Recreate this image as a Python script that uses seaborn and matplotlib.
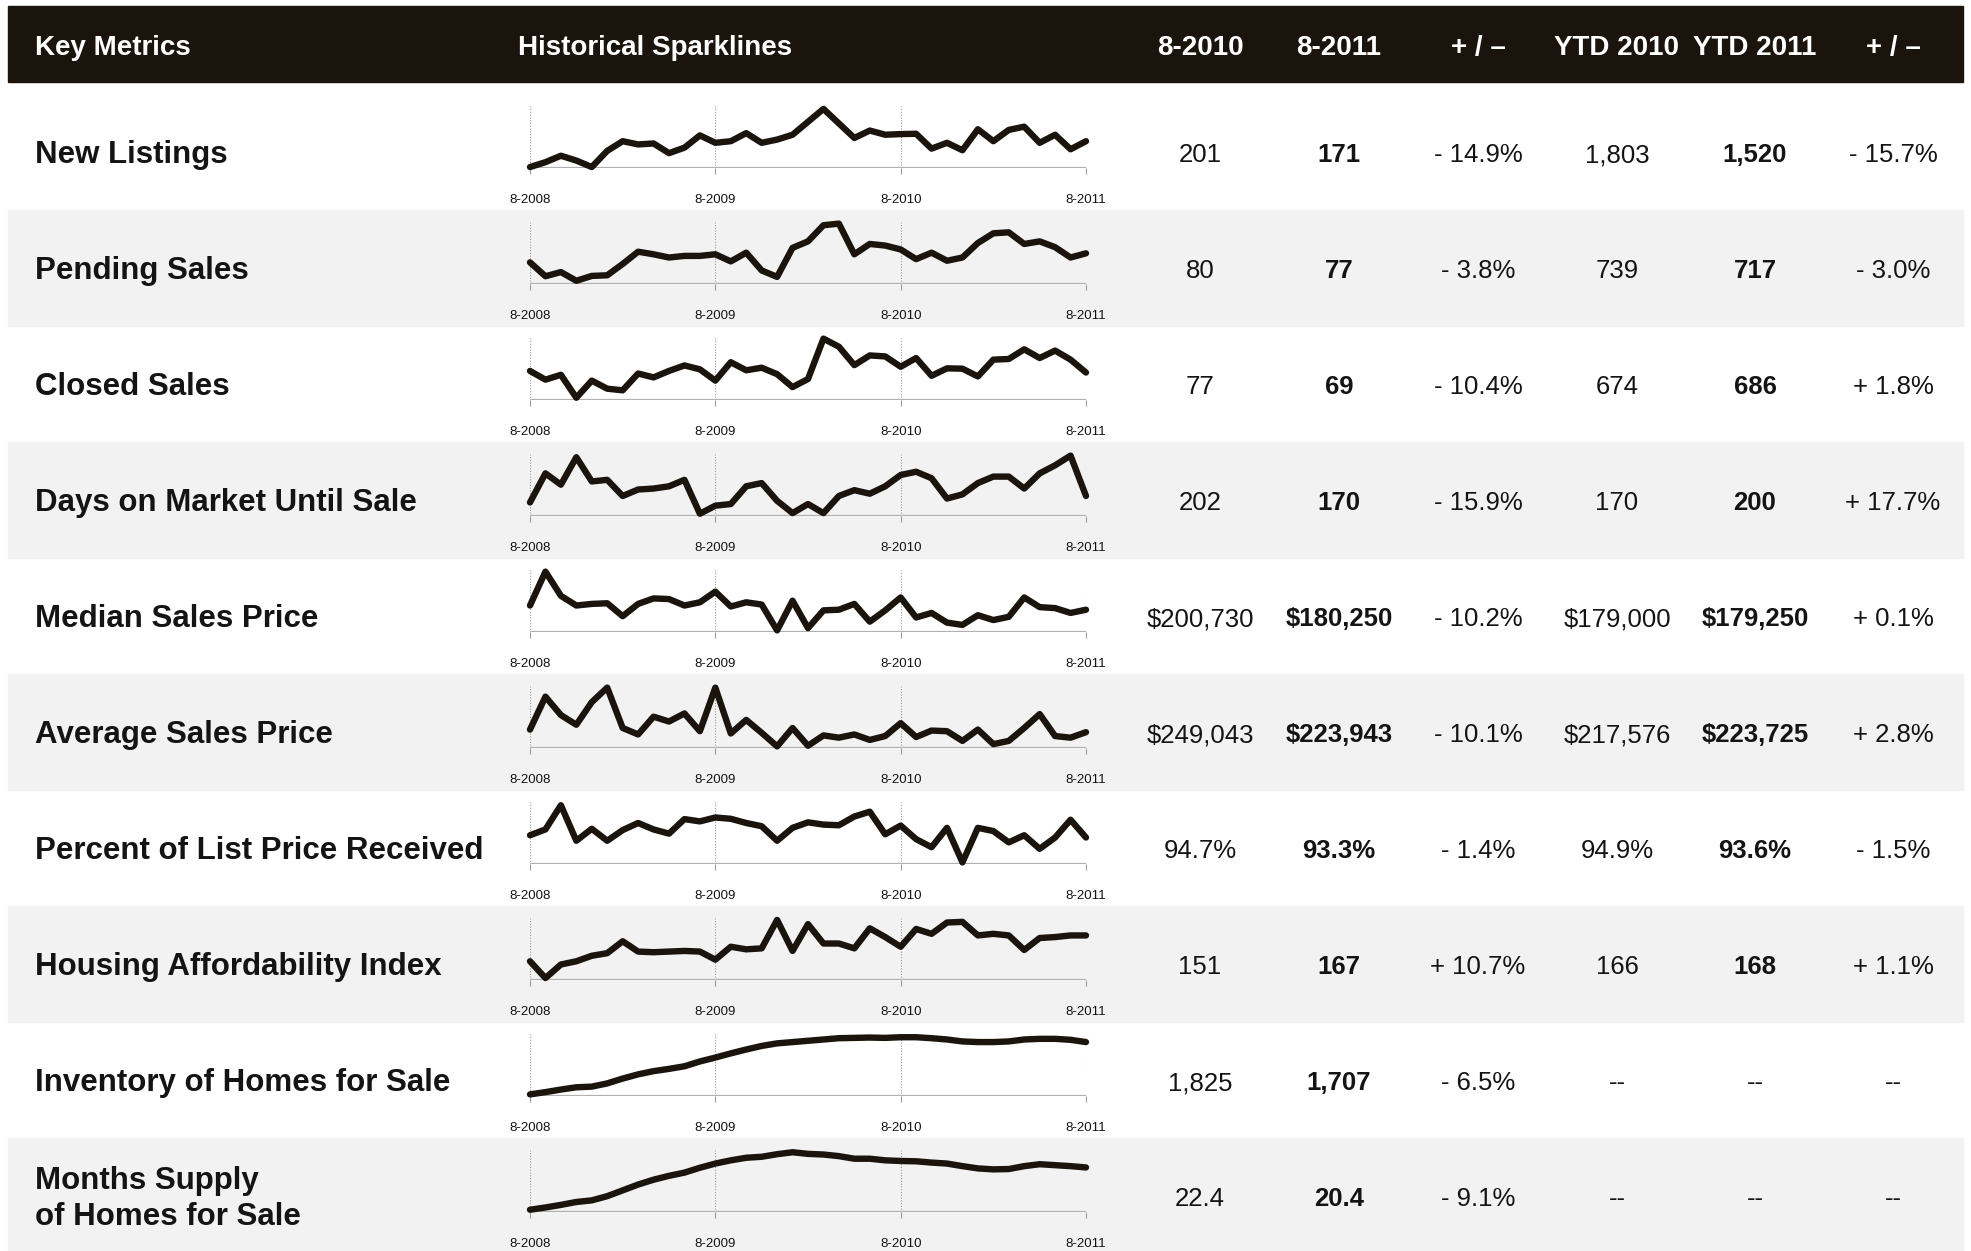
import numpy as np
import pandas as pd
import seaborn as sns
import matplotlib.pyplot as plt
from matplotlib.patches import Rectangle

# metric names (row labels)
metrics = ['New Listings', 'Pending Sales', 'Closed Sales', 'Days on Market Until Sale',
           'Median Sales Price', 'Average Sales Price', 'Percent of List Price Received',
           'Housing Affordability Index', 'Inventory of Homes for Sale',
           'Months Supply\nof Homes for Sale']

# table columns
col_8_2010 = ['201', '80', '77', '202', '$200,730', '$249,043', '94.7%', '151', '1,825', '22.4']
col_8_2011 = ['171', '77', '69', '170', '$180,250', '$223,943', '93.3%', '167', '1,707', '20.4']
chg_month = ['- 14.9%', '- 3.8%', '- 10.4%', '- 15.9%', '- 10.2%', '- 10.1%', '- 1.4%', '+ 10.7%', '- 6.5%', '- 9.1%']
ytd_2010 = ['1,803', '739', '674', '170', '$179,000', '$217,576', '94.9%', '166', '--', '--']
ytd_2011 = ['1,520', '717', '686', '200', '$179,250', '$223,725', '93.6%', '168', '--', '--']
chg_ytd = ['- 15.7%', '- 3.0%', '+ 1.8%', '+ 17.7%', '+ 0.1%', '+ 2.8%', '- 1.5%', '+ 1.1%', '--', '--']

headers = ['8-2010', '8-2011', '+ / \u2013', 'YTD 2010', 'YTD 2011', '+ / \u2013']
tick_labels = ['8-2008', '8-2009', '8-2010', '8-2011']

# sparkline values, monthly 8-2008 .. 8-2011 (relative heights)
new_listings = [3, 18, 38, 23, 3, 53, 83, 73, 76, 46, 63, 101, 78, 83, 108, 78, 88, 103, 143, 183,
                138, 93, 116, 103, 105, 106, 60, 78, 55, 120, 83, 118, 128, 78, 103, 58, 83]
pending_sales = [67, 24, 37, 10, 25, 27, 62, 100, 92, 82, 87, 87, 92, 70, 97, 42, 22, 112, 132, 182,
                 187, 92, 124, 119, 107, 77, 97, 72, 82, 127, 157, 160, 124, 132, 114, 82, 95]
closed_sales = [90, 63, 78, 7, 60, 35, 30, 82, 70, 90, 107, 95, 60, 117, 92, 100, 80, 40, 65, 190,
                165, 108, 138, 135, 103, 130, 75, 98, 97, 73, 125, 127, 157, 130, 153, 125, 85]
days_on_market = [42, 132, 97, 182, 107, 112, 62, 82, 85, 92, 112, 7, 32, 37, 92, 102, 47, 9, 37, 9,
                  62, 80, 69, 92, 127, 137, 117, 54, 67, 102, 122, 122, 85, 132, 157, 187, 62]
median_price = [82, 187, 112, 82, 87, 89, 49, 87, 104, 102, 82, 92, 125, 79, 92, 85, 5, 97, 12, 67,
                69, 87, 32, 67, 107, 45, 59, 29, 22, 52, 37, 47, 107, 77, 74, 59, 69]
average_price = [57, 159, 102, 72, 142, 187, 62, 42, 97, 82, 107, 52, 187, 45, 87, 47, 5, 62, 7, 39,
                 32, 42, 25, 37, 77, 34, 54, 52, 22, 57, 12, 22, 62, 105, 37, 32, 49]
pct_list_price = [89, 107, 182, 72, 109, 72, 105, 127, 107, 94, 139, 132, 144, 140, 127, 117, 72, 112, 129, 122,
                  120, 147, 162, 92, 119, 77, 52, 112, 5, 112, 102, 67, 89, 47, 82, 137, 82]
affordability = [58, 6, 48, 58, 75, 83, 120, 88, 86, 88, 90, 88, 63, 103, 95, 98, 186, 90, 173, 113,
                 113, 98, 160, 133, 103, 158, 143, 178, 180, 138, 143, 138, 93, 130, 133, 138, 138]
inventory = [5, 12, 20, 27, 29, 39, 54, 67, 77, 84, 92, 107, 119, 132, 144, 155, 163, 167, 171, 175,
             179, 180, 181, 180, 182, 182, 179, 175, 169, 167, 167, 169, 175, 177, 177, 174, 167]
months_supply = [7, 14, 22, 31, 36, 49, 67, 85, 100, 112, 122, 137, 150, 160, 168, 171, 179, 185, 180, 178,
                 173, 165, 165, 160, 158, 157, 153, 150, 142, 135, 132, 133, 142, 148, 145, 142, 138]

series = [new_listings, pending_sales, closed_sales, days_on_market, median_price, average_price,
          pct_list_price, affordability, inventory, months_supply]

W, H = 1971, 1251
fig = plt.figure(figsize=(W / 100, H / 100), dpi=100)
fig.patch.set_facecolor('white')

plt.rcParams['font.family'] = ['Liberation Sans', 'DejaVu Sans']

def fx(x):
    return x / W

def fy(y):
    return 1 - y / H

dark = '#1b140c'
txt = '#141414'

# header band
fig.patches.append(Rectangle((fx(8), fy(82)), fx(1963 - 8), (82 - 6) / H,
                             transform=fig.transFigure, color=dark, zorder=-5))
hy = 48
fig.text(fx(35), fy(hy), 'Key Metrics', color='white', fontsize=20, fontweight='bold',
         va='center', ha='left')
fig.text(fx(518), fy(hy), 'Historical Sparklines', color='white', fontsize=20, fontweight='bold',
         va='center', ha='left')
col_x = [1200, 1339, 1478, 1617, 1755, 1893]
for x, h in zip(col_x, headers):
    fig.text(fx(x), fy(hy), h, color='white', fontsize=20, fontweight='bold',
             va='center', ha='center')

pitch = 116
months = np.arange(37)

for k, (name, vals) in enumerate(zip(metrics, series)):
    cy = 152 + pitch * k
    # alternating grey bands
    if k % 2 == 1:
        top = cy - 58
        bot = min(cy + 58, H)
        fig.patches.append(Rectangle((fx(8), fy(bot)), fx(1963 - 8), (bot - top) / H,
                                     transform=fig.transFigure, color='#f2f2f2', zorder=-5))
    fig.text(fx(35), fy(cy + 3), name, fontsize=22.5, fontweight='bold', color=txt,
             va='center', ha='left', linespacing=1.3)

    # sparkline
    ax = fig.add_axes([fx(530), fy(cy + 16), fx(1086 - 530), 62 / H])
    ax.set_zorder(2)
    ax.patch.set_alpha(0)
    df = pd.DataFrame({'month': months, 'value': vals})
    for gx in [0, 12, 24, 36]:
        ax.axvline(gx, color='#9a9a9a', lw=0.8, ls=(0, (1, 1.5)), zorder=1)
    ax.axhline(0, color='#b0b0b0', lw=1.6, zorder=1)
    sns.lineplot(data=df, x='month', y='value', ax=ax, color=dark, linewidth=4.6,
                 zorder=3, clip_on=False, solid_joinstyle='round', solid_capstyle='round')
    ax.set_xlim(0, 36)
    ax.set_ylim(0, 192)
    ax.set_xticks([0, 12, 24, 36])
    ax.set_xticklabels(tick_labels, fontsize=9.5, color=txt)
    ax.tick_params(axis='x', length=4, width=0.8, color='#9a9a9a', pad=15)
    ax.set_yticks([])
    ax.set_xlabel('')
    ax.set_ylabel('')
    for s in ax.spines.values():
        s.set_visible(False)

    # table numbers
    row_vals = [col_8_2010[k], col_8_2011[k], chg_month[k], ytd_2010[k], ytd_2011[k], chg_ytd[k]]
    for j, (x, v) in enumerate(zip(col_x, row_vals)):
        bold = (j in (1, 4)) and v != '--'
        fig.text(fx(x), fy(cy + 3), v, fontsize=18.5, fontweight='bold' if bold else 'normal',
                 color=txt, va='center', ha='center')

fig.savefig('out.png', dpi=100)
